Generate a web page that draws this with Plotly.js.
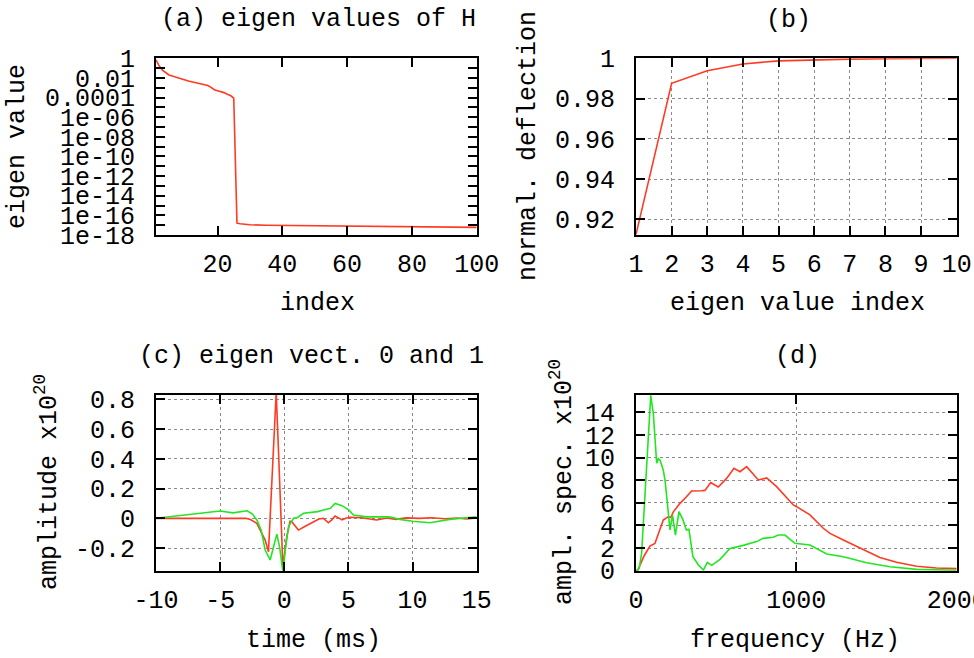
<!DOCTYPE html>
<html>
<head>
<meta charset="utf-8">
<script src="https://cdn.plot.ly/plotly-3.0.1.min.js"></script>
<style>
html,body{margin:0;padding:0;background:#fff;}
#chart{width:974px;height:658px;}
</style>
</head>
<body>
<div id="chart"></div>
<script>
// ---------- data ----------
// (a) eigen values of H
const eigIndex = [1,2,3,4,5,6,7,8,9,10,11,12,13,14,15,16,17,18,19,20,21,22,23,24,25,26,27,28,30,35,45,60,85,100];
const eigValue = [0.7,0.16,0.063,0.032,0.02,0.016,0.013,0.011,0.0089,0.0063,0.0048,0.004,0.0032,0.0026,0.0023,0.002,0.0017,0.0011,0.00063,0.0005,0.00042,0.00032,0.00022,0.00016,0.000089,1.6e-17,1.4e-17,1.25e-17,1.1e-17,1e-17,9e-18,8e-18,6.3e-18,6e-18];
const eigYTickVals = [1,0.01,0.0001,1e-6,1e-8,1e-10,1e-12,1e-14,1e-16,1e-18];
const eigYTickText = ['1','0.01','0.0001','1e-06','1e-08','1e-10','1e-12','1e-14','1e-16','1e-18'];
const eigYMinorVals = [0.1,0.001,1e-5,1e-7,1e-9,1e-11,1e-13,1e-15,1e-17];
const eigXTickVals = [20,40,60,80,100];
const eigXTickText = ['20','40','60','80','100'];

// (b) normalised deflection
const deflIndex = [1,2,3,4,5,6,7,8,9,10];
const deflValue = [0.9125,0.9876,0.9938,0.9972,0.9987,0.9992,0.9996,0.9998,0.9999,1.0];
const deflXTickText = ['1','2','3','4','5','6','7','8','9','10'];
const deflYTickVals = [0.92,0.94,0.96,0.98,1];
const deflYTickText = ['0.92','0.94','0.96','0.98','1'];

// (c) eigen vectors 0 and 1
const vec0Time = [-10,-3,-2.6,-2.14,-1.49,-1.23,-1.05,-0.85,-0.63,-0.45,-0.3,-0.11,0.2,0.45,0.59,0.85,1.1,1.6,2.27,2.7,3.05,3.44,3.7,3.96,4.2,4.5,4.8,5.13,6,7.2,8,8.7,9.5,10.5,11.5,12.5,13.5,14.2,15];
const vec0Amp  = [0,0,-0.01,-0.034,-0.146,-0.224,0.1,0.5,0.845,0.45,0.05,-0.325,-0.12,-0.02,-0.023,-0.05,-0.079,-0.055,-0.023,-0.005,0,-0.03,-0.01,0.015,0.005,-0.01,0.0,0.007,0.004,-0.011,0.002,-0.007,0.003,0.0,0.004,-0.003,0.002,-0.004,0.002];
const vec1Time = [-10,-7.5,-5,-4,-3.2,-2.9,-2.5,-2.14,-1.8,-1.49,-1.1,-0.85,-0.58,-0.35,-0.11,0.1,0.33,0.72,1.0,1.5,2.3,2.6,3.05,3.6,3.96,4.5,5.05,5.39,6.4,7.3,8.2,9,10,11.36,12.9,15];
const vec1Amp  = [0,0.025,0.049,0.037,0.045,0.051,0.03,-0.011,-0.08,-0.213,-0.28,-0.2,-0.106,-0.2,-0.359,-0.2,-0.056,0,0.004,0.034,0.04,0.045,0.056,0.067,0.1,0.085,0.056,0.022,0.01,0.012,0.01,-0.007,-0.02,-0.03,-0.007,0.011];
const timeTickVals = [-10,-5,0,5,10,15];
const timeTickText = ['-10','-5','0','5','10','15'];
const ampTickVals = [-0.2,0,0.2,0.4,0.6,0.8];
const ampTickText = ['-0.2','0','0.2','0.4','0.6','0.8'];

// (d) amplitude spectra
const spec0Freq = [0,10,50,87,118,170,202,216,233,274,306,347,409,430,466,513,565,611,649,690,763,815,877,930,981,1002,1085,1168,1210,1293,1418,1521,1625,1750,1874,2000];
const spec0Amp  = [0,0,1.3,2.18,2.4,4.48,4.78,4.7,5.2,5.95,6.4,7.05,7.07,7.1,7.8,7.4,8.16,9.05,8.75,9.2,8.02,8.2,7.43,6.6,5.81,5.66,4.93,3.75,3.3,2.71,1.83,1.16,0.74,0.39,0.24,0.18];
const spec1Freq = [0,20,35,66,92,108,129,139,150,170,181,202,212,228,246,268,293,314,330,355,389,420,445,472,524,586,617,669,752,793,856,887,929,991,1085,1189,1293,1439,1584,1750,2000];
const spec1Amp  = [0,0.2,1.54,9.2,15.5,13.9,9.5,9.9,9.76,8.9,8.0,5.07,3.6,4.9,3.15,5.22,4.49,3.6,3.66,1.24,0.5,0.06,0.74,0.47,1.0,1.97,2.06,2.24,2.57,2.86,2.95,3.15,3.15,2.42,2.27,1.48,1.24,0.71,0.35,0.12,0.03];
const freqTickVals = [0,1000,2000];
const freqTickText = ['0','1000','2000'];
const specTickVals = [0,2,4,6,8,10,12,14];
const specTickText = ['0','2','4','6','8','10','12','14'];

// ---------- styling ----------
const RED = '#ff3a22';
const GREEN = '#22e622';
const FONT = 'Liberation Mono';
const FS = 25;
const W = 974, H = 658;
const px = v => v / W;
const py = v => 1 - v / H;

function axis(extra) {
  return Object.assign({
    showline: true, mirror: 'ticks', linecolor: '#000', linewidth: 2,
    ticks: 'inside', ticklen: 9, tickwidth: 2, tickcolor: '#000',
    showgrid: false, zeroline: false, tickmode: 'array',
    gridcolor: '#8a8a8a', griddash: 'dot', gridwidth: 1,
    ticklabeloverflow: 'allow',
    tickfont: {family: FONT, size: FS, color: '#000'}
  }, extra);
}

const colA = [px(156), px(476.7)];
const colB = [px(636), px(956.7)];
const rowTop = [py(235), py(58.3)];
const rowBot = [py(570.7), py(395)];

const line = c => ({color: c, width: 1.6});

const traces = [
  {x: eigIndex, y: eigValue, type: 'scatter', mode: 'lines', line: line(RED), xaxis: 'x', yaxis: 'y'},
  {x: deflIndex, y: deflValue, type: 'scatter', mode: 'lines', line: line(RED), xaxis: 'x2', yaxis: 'y2'},
  {x: vec0Time, y: vec0Amp, type: 'scatter', mode: 'lines', line: line(RED), xaxis: 'x3', yaxis: 'y3'},
  {x: vec1Time, y: vec1Amp, type: 'scatter', mode: 'lines', line: line(GREEN), xaxis: 'x3', yaxis: 'y3'},
  {x: spec0Freq, y: spec0Amp, type: 'scatter', mode: 'lines', line: line(RED), xaxis: 'x4', yaxis: 'y4'},
  {x: spec1Freq, y: spec1Amp, type: 'scatter', mode: 'lines', line: line(GREEN), xaxis: 'x4', yaxis: 'y4'}
];

function ann(text, x, y, extra) {
  return Object.assign({text: text, x: px(x), y: py(y), xref: 'paper', yref: 'paper',
    showarrow: false, xanchor: 'center', yanchor: 'middle',
    font: {family: FONT, size: FS, color: '#000'}}, extra || {});
}

const layout = {
  width: W, height: H,
  margin: {l: 0, r: 0, t: 0, b: 0},
  paper_bgcolor: '#fff', plot_bgcolor: '#fff',
  showlegend: false,
  font: {family: FONT, size: FS, color: '#000'},
  xaxis: axis({domain: colA, anchor: 'y', range: [1, 100], tickvals: eigXTickVals, ticktext: eigXTickText, ticklabelstandoff: 5}),
  yaxis: axis({domain: rowTop, anchor: 'x', type: 'log', range: [-18, 0], tickvals: eigYTickVals, ticktext: eigYTickText, ticklabelstandoff: 14,
    minor: {tickmode: 'array', tickvals: eigYMinorVals, ticks: 'inside', ticklen: 9, tickwidth: 2, tickcolor: '#000', showgrid: false}}),
  xaxis2: axis({domain: colB, anchor: 'y2', range: [1, 10], tickvals: deflIndex, ticktext: deflXTickText, showgrid: true, ticklabelstandoff: 5}),
  yaxis2: axis({domain: rowTop, anchor: 'x2', range: [0.9122, 1.0], tickvals: deflYTickVals, ticktext: deflYTickText, showgrid: true, ticklabelstandoff: 14}),
  xaxis3: axis({domain: colA, anchor: 'y3', range: [-10, 15], tickvals: timeTickVals, ticktext: timeTickText, showgrid: true, ticklabelstandoff: 5}),
  yaxis3: axis({domain: rowBot, anchor: 'x3', range: [-0.352, 0.829], tickvals: ampTickVals, ticktext: ampTickText, showgrid: true, ticklabelstandoff: 14}),
  xaxis4: axis({domain: colB, anchor: 'y4', range: [0, 2000], tickvals: freqTickVals, ticktext: freqTickText, showgrid: true, ticklabelstandoff: 5}),
  yaxis4: axis({domain: rowBot, anchor: 'x4', range: [0, 15.53], tickvals: specTickVals, ticktext: specTickText, showgrid: true, ticklabelstandoff: 14}),
  annotations: [
    ann('(a) eigen values of H', 318, 20),
    ann('(b)', 788, 21),
    ann('(c) eigen vect. 0 and 1', 137, 357, {xanchor: 'left'}),
    ann('(d)', 797, 357),
    ann('index', 317, 303),
    ann('eigen value index', 797, 303),
    ann('time (ms)', 313, 640),
    ann('frequency (Hz)', 795, 640),
    ann('eigen value', 18, 147, {textangle: -90}),
    ann('normal. deflection', 528, 146, {textangle: -90}),
    ann('amplitude x10<sup>20</sup>', 47, 482, {textangle: -90}),
    ann('ampl. spec. x10<sup>20</sup>', 562, 482, {textangle: -90})
  ]
};

Plotly.newPlot('chart', traces, layout, {staticPlot: true, displayModeBar: false});
</script>
</body>
</html>
